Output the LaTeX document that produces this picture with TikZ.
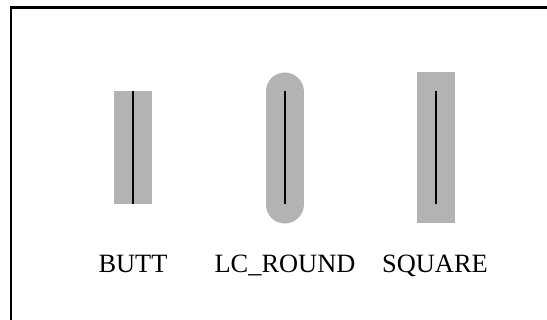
\documentclass[tikz,border=0pt]{standalone}
\usepackage{fontspec}
\setmainfont{Liberation Serif}
\definecolor{capgray}{RGB}{179,179,179}
\begin{document}
\begin{tikzpicture}[x=1pt,y=-1pt,
  wide/.style={line width=38pt,draw=capgray},
  thin/.style={line width=2pt,draw=black,line cap=butt},
  capname/.style={anchor=base,inner sep=0pt,font=\fontsize{26.4pt}{30pt}\selectfont}]
\useasboundingbox (0,0) rectangle (547,320);
% frame: top and left edges
\draw[line width=2.6pt,line cap=butt] (11,320) -- (11,7.5) -- (547,7.5);
% end points of the three strokes
\coordinate (b1) at (133,91.5);  \coordinate (b2) at (133,204.5);
\coordinate (r1) at (284.5,91.5); \coordinate (r2) at (284.5,204.5);
\coordinate (s1) at (435.5,91.5); \coordinate (s2) at (435.5,204.5);
% wide strokes with the three cap styles
\draw[wide,line cap=butt] (b1) -- (b2);
\draw[wide,line cap=round] (r1) -- (r2);
\draw[wide,line cap=rect] (s1) -- (s2);
% the same path drawn thin on top
\draw[thin] (b1) -- (b2);
\draw[thin] (r1) -- (r2);
\draw[thin] (s1) -- (s2);
% labels
\node[capname] (lb) at (133,273) {BUTT};
\node[capname] (lr) at (285,273) {LC\_ROUND};
\node[capname] (ls) at (435,273) {SQUARE};
\end{tikzpicture}
\end{document}
